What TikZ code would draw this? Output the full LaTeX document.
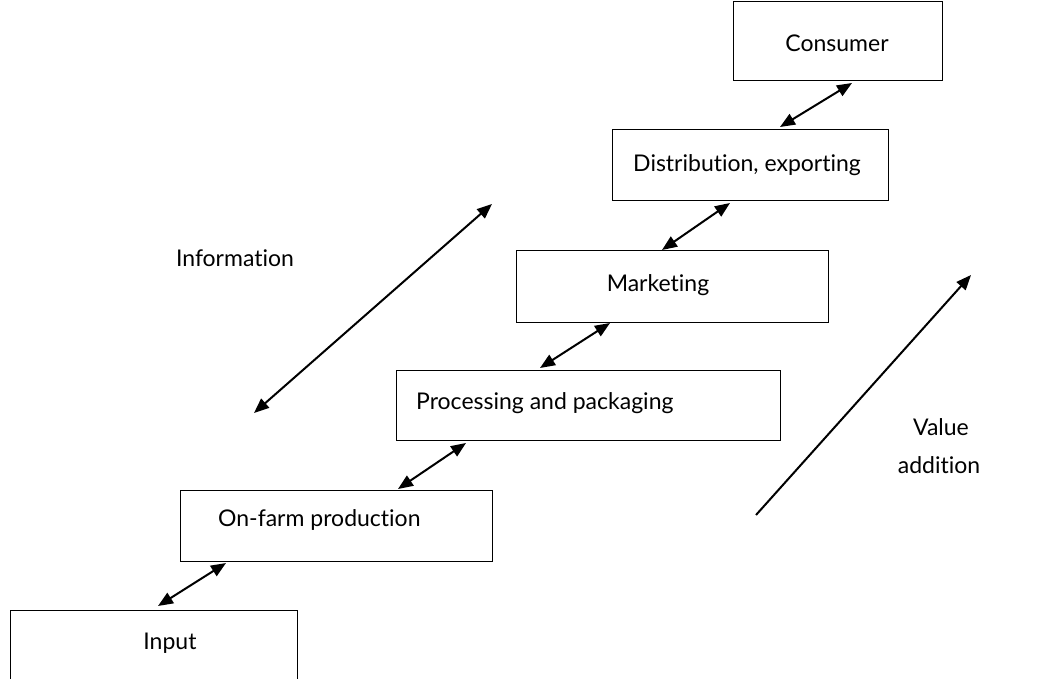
\documentclass[tikz,border=0pt]{standalone}
\usepackage{fontspec}
\setmainfont{Lato}[RawFeature={-liga;-dlig}]
\usetikzlibrary{arrows.meta}
\begin{document}
\begin{tikzpicture}[x=1pt,y=-1pt,
  box/.style={draw, line width=1pt, inner sep=0pt, anchor=north west},
  lbl/.style={font=\fontsize{23}{27}\selectfont, inner sep=0pt},
  tip/.style={Triangle[length=15pt,width=12pt]},
  dbl/.style={line width=2pt, {Triangle[length=15pt,width=12pt]}-{Triangle[length=15pt,width=12pt]}},
  sgl/.style={line width=2pt, -{Triangle[length=15pt,width=12pt]}}]
\useasboundingbox (0,0) rectangle (1037,679);
\node[box, minimum width=209pt, minimum height=79pt] (consumer) at (733,1) {};
\node[box, minimum width=276pt, minimum height=71pt] (distr) at (612,129) {};
\node[box, minimum width=312pt, minimum height=72pt] (market) at (516,250) {};
\node[box, minimum width=384pt, minimum height=70pt] (proc) at (396,370) {};
\node[box, minimum width=312pt, minimum height=71pt] (farm) at (180,490) {};
\node[box, minimum width=287pt, minimum height=80pt] (input) at (10,610) {};
\node[lbl] (tconsumer) at (837,43) {Consumer};
\node[lbl, anchor=west] (tdistr) at (633,165) {Distribution, exporting};
\node[lbl] (tmarket) at (658,285) {Marketing};
\node[lbl, anchor=west] (tproc) at (416,403) {Processing and packaging};
\node[lbl, anchor=west] (tfarm) at (218,520) {On-farm production};
\node[lbl] (tinput) at (170,643) {Input};
\node[lbl] (tinfo) at (235,258) {Information};
\node[lbl] (tvalue) at (941,427) {Value};
\node[lbl] (tadd) at (939,465) {addition};
\draw[dbl] ([xshift=148pt,yshift=4pt]input.north west) -- ([xshift=46pt,yshift=-1pt]farm.south west);
\draw[dbl] ([xshift=218pt,yshift=1pt]farm.north west) -- ([xshift=70pt,yshift=-2pt]proc.south west);
\draw[dbl] ([xshift=144pt,yshift=2pt]proc.north west) -- ([xshift=94pt]market.south west);
\draw[dbl] ([xshift=146pt]market.north west) -- ([xshift=118pt,yshift=-2pt]distr.south west);
\draw[dbl] ([xshift=168pt,yshift=2pt]distr.north west) -- ([xshift=119pt,yshift=-2pt]consumer.south west);
\coordinate (infoA) at (254,413);
\coordinate (infoB) at (492,204);
\draw[dbl] (infoA) -- (infoB);
\coordinate (valA) at (756,515);
\coordinate (valB) at (971,275);
\draw[sgl] (valA) -- (valB);
\end{tikzpicture}
\end{document}
